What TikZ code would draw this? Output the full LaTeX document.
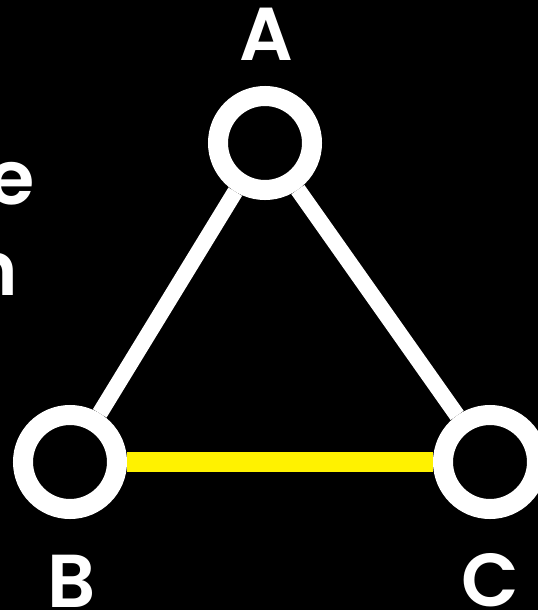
\documentclass[tikz,border=0pt]{standalone}
\usepackage{fontspec}
\setmainfont{Poppins}
\newfontfamily\lblfont{Poppins SemiBold}
\usetikzlibrary{positioning}

\begin{document}
\begin{tikzpicture}[
	x=1pt, y=-1pt,
	font=\lblfont\fontsize{75}{75}\selectfont,
	vertex/.style={
		draw=white,
		fill=black,
		circle,
		line width=20pt,
		inner sep=0pt,
		minimum size=94pt,
	},
	edgeline/.style={draw=white, line width=16pt},
	hotline/.style={draw=yellow, line width=20pt},
	lbl/.style={text=white, inner sep=0pt, anchor=base},
]

% --- Rahmen und Hintergrund ---
\useasboundingbox (0,0) rectangle (538,610);
\clip (0,0) rectangle (538,610);
\fill[black] (0,0) rectangle (538,610);

% --- Textreste am linken Rand ---
\node[lbl, anchor=base east] (cutE) at (35,204) {e};
\node[lbl, anchor=base east] (cutN) at (18,295) {n};

% --- Knoten ---
\node[vertex] (A) at (265,143) {};
\node[vertex] (B) at (70,462) {};
\node[vertex] (C) at (490,462) {};

% --- Beschriftungen ---
\node[lbl] (labA) at (266,60) {A};
\node[lbl] (labB) at (72,607) {B};
\node[lbl] (labC) at (490,606) {C};

% --- Kanten ---
\draw[edgeline] (A) -- (B);
\draw[edgeline] (A) -- (C);
\draw[hotline] (B) -- (C);

\end{tikzpicture}
\end{document}
